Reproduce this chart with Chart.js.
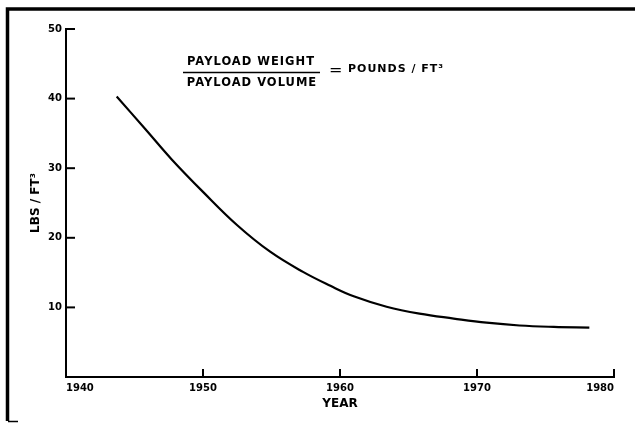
<!DOCTYPE html>
<html>
<head>
<meta charset="utf-8">
<script src="https://cdn.jsdelivr.net/npm/chart.js@4/dist/chart.umd.min.js"></script>
<style>
  html, body { margin: 0; padding: 0; background: #fff; }
  #wrap { width: 635px; height: 424px; position: relative; }
</style>
</head>
<body>
<div id="wrap"><canvas id="chart" width="635" height="424"></canvas></div>
<script>
// values
const years = [1943.7, 1945.8, 1947.7, 1950.0, 1952.5, 1954.9, 1957.3, 1959.3, 1961.0, 1963.4, 1965.8, 1968.3, 1970.7, 1973.1, 1975.6, 1978.2];
const density = [40.3, 35.6, 31.3, 26.6, 21.8, 18.0, 15.1, 13.1, 11.6, 10.1, 9.1, 8.4, 7.8, 7.4, 7.2, 7.1];
const yearTicks = [1940, 1950, 1960, 1970, 1980];
const densityTicks = [10, 20, 30, 40, 50];

const FONT = "'DejaVu Sans', sans-serif";

const points = years.map((y, i) => ({ x: y, y: density[i] }));

// inward tick marks, frame and the formula text
const decor = {
  id: "decor",
  afterDraw(chart) {
    const ctx = chart.ctx;
    const xs = chart.scales.x;
    const ys = chart.scales.y;
    const area = chart.chartArea;
    ctx.save();
    ctx.strokeStyle = "#000";
    ctx.lineWidth = 2;
    densityTicks.forEach((v) => {
      const py = ys.getPixelForValue(v);
      ctx.beginPath();
      ctx.moveTo(area.left, py);
      ctx.lineTo(area.left + 9, py);
      ctx.stroke();
    });
    yearTicks.slice(1).forEach((v) => {
      const px = xs.getPixelForValue(v);
      ctx.beginPath();
      ctx.moveTo(px, area.bottom);
      ctx.lineTo(px, area.bottom - 8);
      ctx.stroke();
    });

    // frame
    ctx.lineWidth = 3.5;
    ctx.beginPath();
    ctx.moveTo(7.5, 421);
    ctx.lineTo(7.5, 9);
    ctx.lineTo(635, 9);
    ctx.stroke();
    ctx.lineWidth = 1.5;
    ctx.beginPath();
    ctx.moveTo(8, 421.5);
    ctx.lineTo(18, 421.5);
    ctx.stroke();

    // formula
    ctx.fillStyle = "#000";
    ctx.font = "bold 11.5px " + FONT;
    ctx.letterSpacing = "1px";
    ctx.textAlign = "center";
    ctx.textBaseline = "middle";
    ctx.fillText("PAYLOAD WEIGHT", 251, 62.5);
    ctx.fillText("PAYLOAD VOLUME", 252, 83.5);
    ctx.lineWidth = 1.5;
    ctx.beginPath();
    ctx.moveTo(183, 72.5);
    ctx.lineTo(320, 72.5);
    ctx.stroke();
    ctx.textAlign = "left";
    ctx.font = "16px " + FONT;
    ctx.letterSpacing = "0px";
    ctx.fillText("=", 329, 70.5);
    ctx.font = "bold 11px " + FONT;
    ctx.letterSpacing = "1px";
    ctx.fillText("POUNDS / FT³", 348, 69.5);
    ctx.restore();
  },
};

new Chart(document.getElementById("chart"), {
  type: "line",
  data: {
    datasets: [
      {
        data: points,
        borderColor: "#000",
        borderWidth: 2.2,
        pointRadius: 0,
        fill: false,
        tension: 0.4,
      },
    ],
  },
  options: {
    responsive: false,
    animation: false,
    events: [],
    layout: { padding: { left: 0, right: 21, top: 29, bottom: 0 } },
    plugins: { legend: { display: false }, tooltip: { enabled: false } },
    scales: {
      x: {
        type: "linear",
        min: 1940,
        max: 1980,
        afterBuildTicks: (s) => { s.ticks = yearTicks.map((v) => ({ value: v })); },
        afterFit: (s) => { s.height = 47; },
        grid: { display: false, drawTicks: false },
        border: { color: "#000", width: 2 },
        ticks: {
          color: "#000",
          padding: 5,
          align: "inner",
          maxRotation: 0,
          font: { family: FONT, weight: "bold", size: 10 },
          callback: (v) => String(v),
        },
        title: {
          display: true,
          text: "YEAR",
          color: "#000",
          font: { family: FONT, weight: "bold", size: 12 },
          padding: { top: 0, bottom: 13 },
        },
      },
      y: {
        min: 0,
        max: 50,
        afterBuildTicks: (s) => { s.ticks = densityTicks.map((v) => ({ value: v })); },
        afterFit: (s) => { s.width = 66; },
        grid: { display: false, drawTicks: false },
        border: { color: "#000", width: 2 },
        ticks: {
          color: "#000",
          padding: 4,
          font: { family: FONT, weight: "bold", size: 10 },
        },
        title: {
          display: true,
          text: "LBS / FT³",
          color: "#000",
          font: { family: FONT, weight: "bold", size: 12 },
          padding: { top: 29, bottom: 0 },
        },
      },
    },
  },
  plugins: [decor],
});
</script>
</body>
</html>
